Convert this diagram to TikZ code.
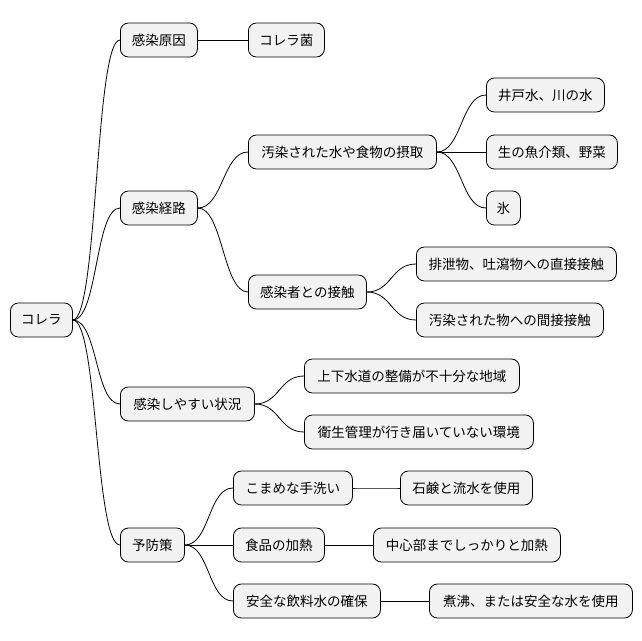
\documentclass[tikz,border=0pt]{standalone}
\usepackage{fontspec}
\setmainfont{Noto Sans CJK JP}
\begin{document}
\begin{tikzpicture}[x=1pt,y=-1pt,
  box/.style={draw=black,line width=0.8pt,fill=black!5,rounded corners=8pt,anchor=west,minimum height=34pt,inner sep=0pt,font=\fontsize{13.5}{16}\selectfont},
  link/.style={draw=black,line width=0.8pt}]
\useasboundingbox (0,0) rectangle (642,640);
\node[box,minimum width=62] (r) at (10,320) {コレラ};
\node[box,minimum width=77] (a) at (120,40) {感染原因};
\node[box,minimum width=76] (a1) at (248,40) {コレラ菌};
\node[box,minimum width=77] (b) at (120,208) {感染経路};
\node[box,minimum width=188] (b1) at (248,152) {汚染された水や食物の摂取};
\node[box,minimum width=118] (b11) at (486,95) {井戸水、川の水};
\node[box,minimum width=131] (b12) at (486,152) {生の魚介類、野菜};
\node[box,minimum width=34] (b13) at (486,208) {氷};
\node[box,minimum width=118] (b2) at (248,292) {感染者との接触};
\node[box,minimum width=200] (b21) at (416,264) {排泄物、吐瀉物への直接接触};
\node[box,minimum width=187] (b22) at (416,320) {汚染された物への間接接触};
\node[box,minimum width=134] (c) at (120,404) {感染しやすい状況};
\node[box,minimum width=215] (c1) at (304,376) {上下水道の整備が不十分な地域};
\node[box,minimum width=229] (c2) at (304,432) {衛生管理が行き届いていない環境};
\node[box,minimum width=64] (d) at (120,545) {予防策};
\node[box,minimum width=119] (d1) at (233,488) {こまめな手洗い};
\node[box,minimum width=132] (d11) at (400,488) {石鹸と流水を使用};
\node[box,minimum width=91] (d2) at (233,545) {食品の加熱};
\node[box,minimum width=187] (d21) at (373,545) {中心部までしっかりと加熱};
\node[box,minimum width=147] (d3) at (233,601) {安全な飲料水の確保};
\node[box,minimum width=203] (d31) at (429,601) {煮沸、または安全な水を使用};
\foreach \p/\c in {r/a,r/b,r/c,r/d,a/a1,b/b1,b/b2,b1/b11,b1/b12,b1/b13,b2/b21,b2/b22,c/c1,c/c2,d/d1,d/d2,d/d3,d1/d11,d2/d21,d3/d31}
  \draw[link] (\p.east) .. controls +(25,0) and +(-25,0) .. (\c.west);
\end{tikzpicture}
\end{document}
